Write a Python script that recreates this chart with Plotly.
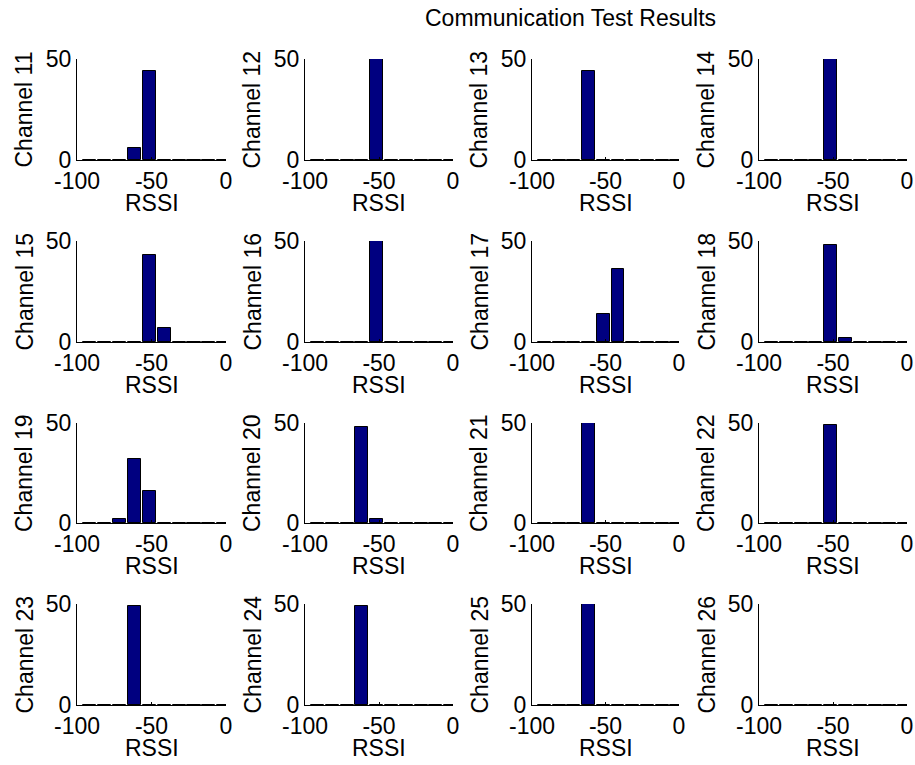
import plotly.graph_objects as go

# Histogram bin centres (RSSI, dBm) and per-channel packet counts
bin_centers = [-91.5, -81.5, -71.5, -61.5, -51.5, -41.5, -31.5, -21.5, -11.5, -1.5]
channels = list(range(11, 27))

ch11 = [0, 0, 0, 6, 44, 0, 0, 0, 0, 0]
ch12 = [0, 0, 0, 0, 50, 0, 0, 0, 0, 0]
ch13 = [0, 0, 0, 44, 0, 0, 0, 0, 0, 0]
ch14 = [0, 0, 0, 0, 50, 0, 0, 0, 0, 0]
ch15 = [0, 0, 0, 0, 43, 7, 0, 0, 0, 0]
ch16 = [0, 0, 0, 0, 50, 0, 0, 0, 0, 0]
ch17 = [0, 0, 0, 0, 14, 36, 0, 0, 0, 0]
ch18 = [0, 0, 0, 0, 48, 2, 0, 0, 0, 0]
ch19 = [0, 0, 2, 32, 16, 0, 0, 0, 0, 0]
ch20 = [0, 0, 0, 48, 2, 0, 0, 0, 0, 0]
ch21 = [0, 0, 0, 50, 0, 0, 0, 0, 0, 0]
ch22 = [0, 0, 0, 0, 49, 0, 0, 0, 0, 0]
ch23 = [0, 0, 0, 49, 0, 0, 0, 0, 0, 0]
ch24 = [0, 0, 0, 49, 0, 0, 0, 0, 0, 0]
ch25 = [0, 0, 0, 50, 0, 0, 0, 0, 0, 0]
ch26 = [0, 0, 0, 0, 0, 0, 0, 0, 0, 0]
counts = [ch11, ch12, ch13, ch14, ch15, ch16, ch17, ch18,
          ch19, ch20, ch21, ch22, ch23, ch24, ch25, ch26]

x_ticks = [-100, -50, 0]
y_ticks = [0, 50]

W, H = 915, 765
FONT = "Liberation Sans, Arial, sans-serif"
FS = 23

# Axes boxes in pixels: columns (left, right), rows (top, bottom)
cols = [(77, 226), (305, 453), (532, 679), (759, 907)]
rows = [(59, 160), (241, 342), (423, 523), (604, 705)]

fig = go.Figure()
layout = dict(
    width=W, height=H,
    margin=dict(l=0, r=0, t=0, b=0, autoexpand=False),
    paper_bgcolor="white", plot_bgcolor="white",
    showlegend=False, bargap=0,
    font=dict(family=FONT, size=FS, color="black"),
)
annotations = []

for i, ch in enumerate(channels):
    r, c = divmod(i, 4)
    n = i + 1
    xa = "x" if n == 1 else f"x{n}"
    ya = "y" if n == 1 else f"y{n}"
    fig.add_trace(go.Bar(
        x=bin_centers, y=counts[i], width=8.8,
        marker=dict(color="#000080", line=dict(color="black", width=1)),
        xaxis=xa, yaxis=ya,
    ))
    x0, x1 = cols[c]
    y0, y1 = rows[r]
    common = dict(
        showline=True, linecolor="black", linewidth=1,
        ticks="inside", ticklen=3, tickcolor="black",
        showgrid=False, zeroline=False,
        tickfont=dict(family=FONT, size=FS, color="black"),
        fixedrange=True,
    )
    layout["xaxis" if n == 1 else f"xaxis{n}"] = dict(
        domain=[x0 / W, x1 / W], range=[-100, 0],
        tickvals=x_ticks, ticktext=[str(v) for v in x_ticks],
        anchor=ya, **common,
    )
    layout["yaxis" if n == 1 else f"yaxis{n}"] = dict(
        domain=[1 - y1 / H, 1 - y0 / H], range=[0, 50],
        tickvals=y_ticks, ticktext=[str(v) for v in y_ticks],
        anchor=xa, **common,
    )
    # axis labels
    annotations.append(dict(
        text=f"Channel {ch}", xref="paper", yref="paper",
        x=(x0 - 53) / W, y=1 - ((y0 + y1) / 2) / H,
        textangle=-90, showarrow=False,
        xanchor="center", yanchor="middle",
        font=dict(family=FONT, size=FS, color="black"),
    ))
    annotations.append(dict(
        text="RSSI", xref="paper", yref="paper",
        x=((x0 + x1) / 2) / W, y=1 - (y1 + 43) / H,
        showarrow=False, xanchor="center", yanchor="middle",
        font=dict(family=FONT, size=FS, color="black"),
    ))

annotations.append(dict(
    text="Communication Test Results", xref="paper", yref="paper",
    x=570 / W, y=1 - 18 / H, showarrow=False,
    xanchor="center", yanchor="middle",
    font=dict(family=FONT, size=FS, color="black"),
))
layout["annotations"] = annotations
fig.update_layout(**layout)
fig.write_html("out.html")
